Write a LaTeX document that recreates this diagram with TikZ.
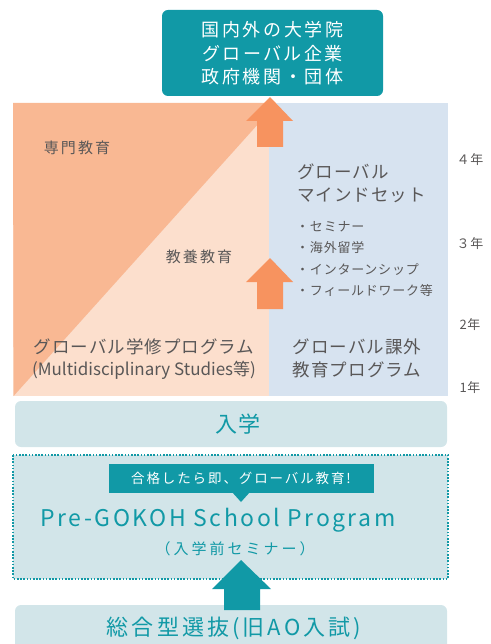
\documentclass[tikz,border=0pt]{standalone}
\usepackage{fontspec}
\setmainfont{Noto Sans CJK JP}
\newfontfamily\jpls[LetterSpace=14]{Noto Sans CJK JP}
\newfontfamily\jpsm[LetterSpace=6]{Noto Sans CJK JP}
\newfontfamily\jpxl[LetterSpace=20]{Noto Sans CJK JP}
\newfontfamily\latw[LetterSpace=11]{Noto Sans CJK JP}
\definecolor{teal1}{HTML}{1199A6}
\definecolor{tealbg}{HTML}{D2E5E9}
\definecolor{orA}{HTML}{F9B893}
\definecolor{orB}{HTML}{FCDFCD}
\definecolor{orArrow}{HTML}{F7935F}
\definecolor{blueR}{HTML}{D7E3F0}
\definecolor{txtg}{HTML}{595757}
\tikzset{
  gtext/.style={text=txtg, inner sep=0pt},
  ttext/.style={text=teal1, inner sep=0pt},
  yeartext/.style={text=txtg, inner sep=0pt, font=\jpsm\fontsize{13}{15}\selectfont},
}
\begin{document}
\begin{tikzpicture}[x=1pt,y=-1pt]
\useasboundingbox (0,0) rectangle (490,644);
% main region
\fill[orB] (13,103) rectangle (269,396);
\begin{scope}
\clip (13,103) rectangle (269,396);
\fill[orA] (13,103) -- (277,103) -- (13.6,396) -- cycle;
\end{scope}
\fill[blueR] (269,103) rectangle (448,396);
% top box
\fill[teal1, rounded corners=6pt] (162,10) rectangle (383,96);
\node[inner sep=0pt, text=white, align=center, font=\jpls\fontsize{18}{23.5}\selectfont] (dest) at (272.5,53.5) {国内外の大学院\\グローバル企業\\政府機関・団体};
% orange arrows
\fill[orArrow] (270,97) -- (293,121) -- (283,121) -- (283,147) -- (257,147) -- (257,121) -- (246,121) -- cycle;
\fill[orArrow] (270,258) -- (293,282) -- (283,282) -- (283,309) -- (257,309) -- (257,282) -- (246,282) -- cycle;
% texts in main
\node[gtext, font=\jpls\fontsize{15}{18}\selectfont] (senmon) at (77,148) {専門教育};
\node[gtext, font=\jpls\fontsize{15}{18}\selectfont] (kyoyo) at (199,257) {教養教育};
\node[gtext, anchor=west, align=left, font=\jpsm\fontsize{17.5}{23}\selectfont] (mind) at (297,183.5) {グローバル\\マインドセット};
\node[gtext, anchor=west, align=left, font=\jpsm\fontsize{13}{21.2}\selectfont] (list) at (296,259) {・セミナー\\・海外留学\\・インターンシップ\\・フィールドワーク等};
\node[gtext, font=\jpsm\fontsize{17.5}{23}\selectfont] (gakushu) at (144,347) {グローバル学修プログラム};
\node[gtext, font=\fontsize{17}{23}\selectfont] (multi) at (144,370) {(Multidisciplinary Studies等)};
\node[gtext, align=center, font=\jpsm\fontsize{17.5}{23}\selectfont] (kagai) at (357,358.5) {グローバル課外\\教育プログラム};
% years
\node[yeartext] (y4) at (470,160) {４年};
\node[yeartext] (y3) at (470,244) {３年};
\node[yeartext] (y2) at (470,325) {2年};
\node[yeartext] (y1) at (470,388) {1年};
% entrance
\fill[tealbg, rounded corners=6pt] (15,401) rectangle (447,447);
\node[ttext, font=\jpsm\fontsize{22}{26}\selectfont] (nyugaku) at (238,424) {入学};
% dotted box
\fill[tealbg] (13,455) rectangle (448,579);
\draw[teal1, line width=1.6pt, dash pattern=on 1.6pt off 1.6pt] (13,455) rectangle (448,579);
% callout
\fill[teal1] (109,464) rectangle (374,493);
\fill[teal1] (232,492) -- (241,502) -- (250,492) -- cycle;
\node[inner sep=0pt, text=white, font=\jpls\fontsize{13.5}{16}\selectfont] (gokaku) at (241,478.5) {合格したら即、グローバル教育!};
\node[ttext, font=\latw\fontsize{23}{27}\selectfont] (pre) at (218,520) {Pre-GOKOH School Program};
\node[ttext, font=\jpxl\fontsize{15}{18}\selectfont] (seminar) at (235,549) {（入学前セミナー）};
% bottom box
\fill[tealbg, rounded corners=6pt] (15,605) rectangle (447,670);
\fill[teal1] (241,560) -- (271,589) -- (260,589) -- (260,610) -- (224,610) -- (224,589) -- (212,589) -- cycle;
\node[ttext, font=\jpls\fontsize{22}{26}\selectfont] (sogo) at (234,628) {総合型選抜(旧AO入試)};
\end{tikzpicture}
\end{document}
